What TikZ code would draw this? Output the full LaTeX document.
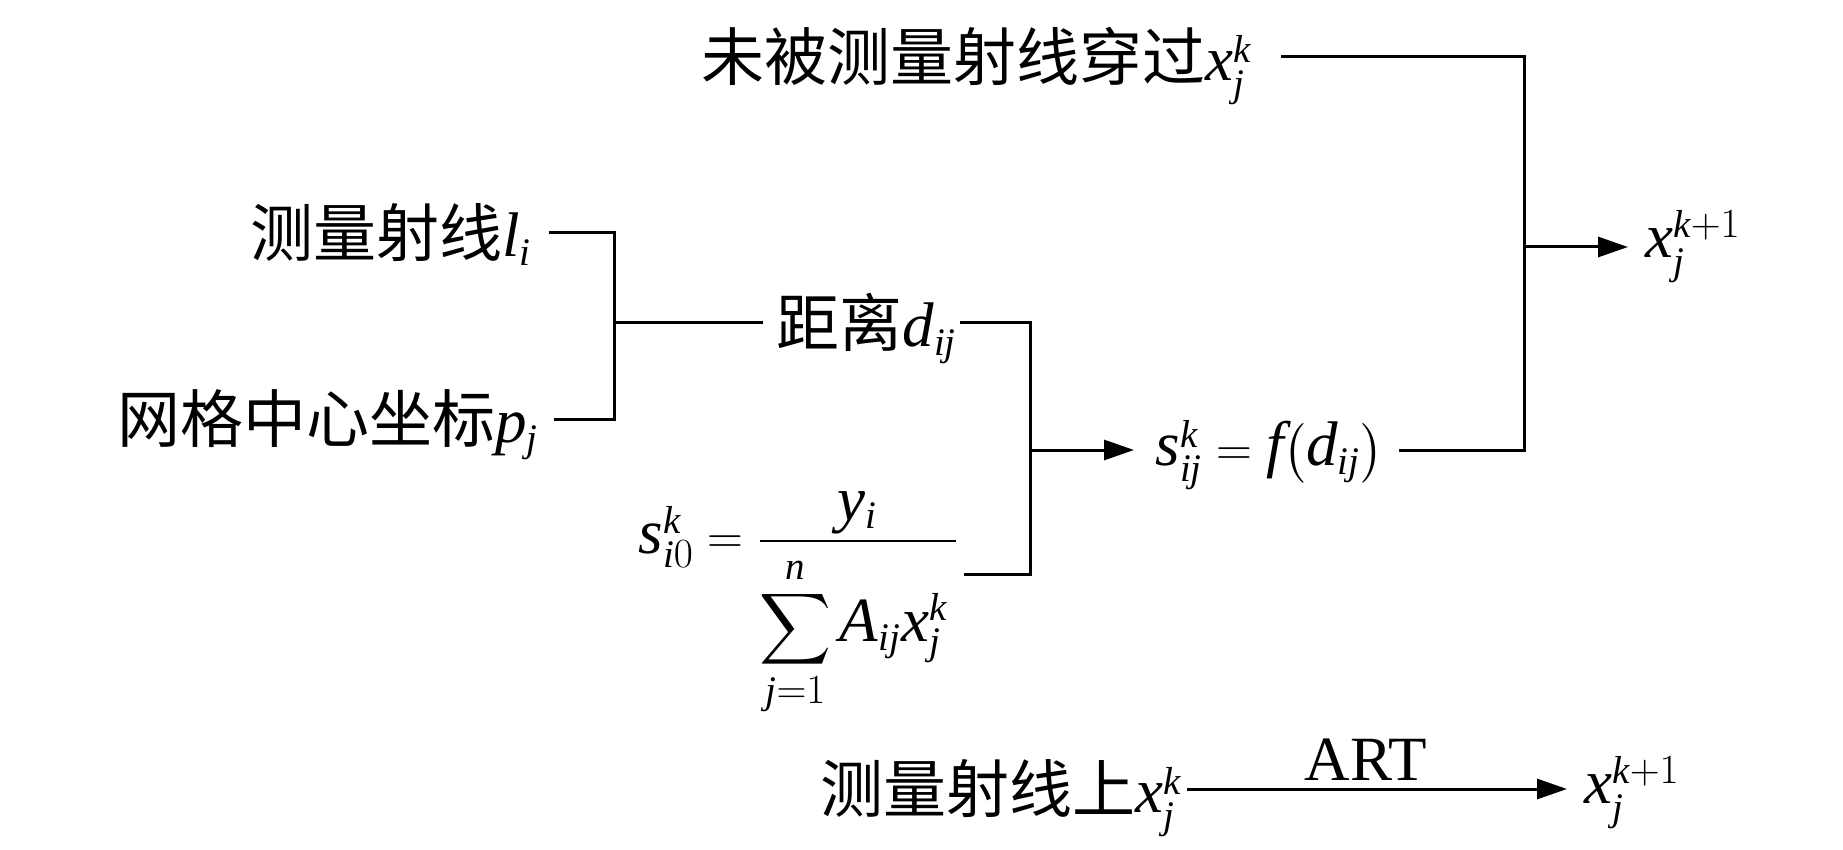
\documentclass[tikz,border=0pt]{standalone}
\usepackage{amsmath}
\usepackage{fontspec}
\setmainfont{Liberation Serif}
\newfontfamily\cjk{Noto Sans CJK SC}
\usepackage[italic]{mathastext}
\usetikzlibrary{arrows.meta}
\DeclareMathSizes{31.5}{31.5}{19.5}{15}
\newcommand\fs{\fontsize{31.5}{38}\selectfont}
\begin{document}
\begin{tikzpicture}[x=0.5pt,y=-0.5pt,line width=1.5pt,
  lbl/.style={inner sep=0pt,text height=27.7pt,text depth=3.8pt,font=\fs},
  mth/.style={inner sep=0pt,text height=23.6pt,text depth=7.9pt,font=\fs},
  arr/.style={-{Triangle[length=15pt,width=10pt]}}]
\useasboundingbox (0,0) rectangle (1843,850);
% nodes
\node[lbl,anchor=east] (top) at (1253,57) {\cjk 未被测量射线穿过$x_j^k$};
\node[lbl,anchor=east] (li) at (533,233) {\cjk 测量射线$l_i$};
\node[lbl,anchor=east] (pj) at (540,419) {\cjk 网格中心坐标$p_j$};
\node[lbl,anchor=west] (dij) at (775,323) {\cjk 距离$d_{ij}$};
\node[mth,anchor=west] (frac) at (637,538) {$\displaystyle s_{i0}^k=\frac{y_i}{\displaystyle\sum_{j=1}^{n\rule{0pt}{13pt}}A_{ij}x_j^k\,}$};
\node[mth,anchor=west] (sij) at (1154,450) {$s_{ij}^k=f\big(d_{ij}\big)$};
\node[mth,anchor=west] (xk) at (1644,242) {$x_j^{k+1}$};
\node[lbl,anchor=east] (btm) at (1183,789) {\cjk 测量射线上$x_j^k$};
\node[mth,anchor=west] (xk2) at (1583,788) {$x_j^{k+1}$};
\node[font=\fs,inner sep=0pt,anchor=base] (art) at (1366,780) {ART};
% junctions
\coordinate (J1) at (614,323);
\coordinate (J2) at (1030,450);
\coordinate (J3) at (1030,574);
\coordinate (J4) at (1524,247);
% connectors
\draw ([xshift=8pt]li.east) -| (J1) |- ([xshift=7pt]pj.east);
\draw (J1) -- ([xshift=-6pt]dij.west);
\draw ([xshift=1pt]dij.east) -| (J2);
\draw ([xshift=2pt]frac.east |- J3) -| (J2);
\draw[arr] (J2) -- ([xshift=-10pt]sij.west);
\draw ([xshift=14pt]top.east) -| (J4);
\draw ([xshift=7pt]sij.east) -| (J4);
\draw[arr] (J4) -- ([xshift=-8pt]xk.west |- J4);
\draw[arr] ([xshift=2pt]btm.east) -- ([xshift=-8pt]xk2.west |- btm.east);
\end{tikzpicture}
\end{document}
